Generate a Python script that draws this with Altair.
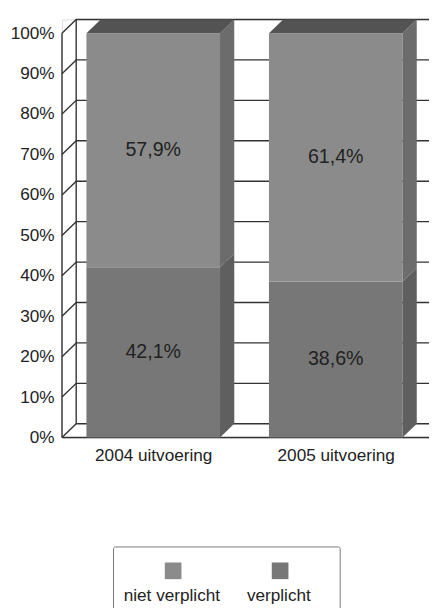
import altair as alt
import pandas as pd

# ---- data ----
categories = ["2004 uitvoering", "2005 uitvoering"]
series = ["niet verplicht", "verplicht"]
verplicht = [42.1, 38.6]
niet_verplicht = [57.9, 61.4]
y_ticks = [0, 10, 20, 30, 40, 50, 60, 70, 80, 90, 100]

# ---- styling / 3D geometry constants ----
front_colors = ["#8b8b8b", "#777777"]       # niet verplicht, verplicht
side_colors = {"niet verplicht": "#6c6c6c", "verplicht": "#5f5f5f"}
top_color = "#535353"
line_color = "#333333"
text_color = "#222222"
FONT = "Liberation Sans"
DX = 0.078      # depth in x units
DY = 3.4        # depth in y units (percent)
HALF = 0.366    # half bar width
XMAX = 2.011
YMAX = 100 + DY

# ---- tables built from the arrays ----
seg_rows, side_rows, top_rows = [], [], []
for i, cat in enumerate(categories):
    c = i + 0.5
    parts = [("verplicht", 0.0, verplicht[i]),
             ("niet verplicht", verplicht[i], verplicht[i] + niet_verplicht[i])]
    for s, lo, hi in parts:
        val = hi - lo
        seg_rows.append(dict(series=s, x=c - HALF, x2=c + HALF, y=lo, y2=hi,
                             xc=c, mid=(lo + hi) / 2,
                             label=f"{val:.1f}%".replace(".", ",")))
        key = f"{cat}|{s}"
        side_rows.append(dict(key=key, shade=s, x=c + HALF, y=lo, y2=hi))
        side_rows.append(dict(key=key, shade=s, x=c + HALF + DX, y=lo + DY, y2=hi + DY))
    total = verplicht[i] + niet_verplicht[i]
    top_rows.append(dict(key=cat, y=total, x=c - HALF, x2=c + HALF))
    top_rows.append(dict(key=cat, y=total + DY, x=c - HALF + DX, x2=c + HALF + DX))

grid_rows = []
for v in y_ticks:
    grid_rows += [dict(k=f"g{v}", x=0.0, y=v, o=0),
                  dict(k=f"g{v}", x=DX, y=v + DY, o=1),
                  dict(k=f"g{v}", x=XMAX, y=v + DY, o=2)]
grid_rows += [dict(k="back", x=DX, y=DY, o=0), dict(k="back", x=DX, y=100 + DY, o=1),
              dict(k="front", x=0.0, y=0, o=0), dict(k="front", x=0.0, y=100, o=1),
              dict(k="floor", x=0.0, y=0, o=0), dict(k="floor", x=XMAX, y=0, o=1)]

seg = pd.DataFrame(seg_rows)
side = pd.DataFrame(side_rows)
top = pd.DataFrame(top_rows)
grid = pd.DataFrame(grid_rows)

label_expr = "[" + ",".join(f"'{c}'" for c in categories) + "][floor(datum.value)]"


def X(field):
    return alt.X(field, type="quantitative",
                 scale=alt.Scale(domain=[0, XMAX], nice=False, zero=False),
                 axis=alt.Axis(values=[0.5, 1.5], labelExpr=label_expr, title=None,
                               domain=False, ticks=False, grid=False, labelPadding=9,
                               labelFontSize=17.5, labelColor=text_color, labelFont=FONT))


def Y(field):
    return alt.Y(field, type="quantitative", stack=None,
                 scale=alt.Scale(domain=[0, YMAX], nice=False, zero=False),
                 axis=alt.Axis(values=y_ticks, labelExpr="datum.value + '%'", title=None,
                               domain=False, ticks=False, grid=False, labelPadding=8,
                               labelFontSize=17.5, labelColor=text_color, labelFont=FONT))


lines = alt.Chart(grid).mark_line(color=line_color, strokeWidth=1.4).encode(
    x=X("x"), y=Y("y"), detail="k:N", order="o:Q")

front = alt.Chart(seg).mark_rect(strokeWidth=0).encode(
    x=X("x"), x2="x2", y=Y("y"), y2="y2",
    color=alt.Color("series:N",
                    scale=alt.Scale(domain=series, range=front_colors),
                    legend=alt.Legend(
                        title="i" * 37, titleFontSize=20.7, titlePadding=12,
                        titleLimit=600, titleFont=FONT, titleOpacity=0,
                        orient="none", legendX=52, legendY=537,
                        direction="horizontal",
                        symbolType="M1.12,-4.06H3.12V-2.06H1.12Z",
                        symbolSize=289, symbolStrokeWidth=0, symbolOffset=25.5,
                        labelAlign="center", labelBaseline="middle", labelOffset=8,
                        labelFontSize=17.5, labelFont=FONT, labelColor=text_color,
                        columnPadding=8, padding=9,
                        fillColor="white", strokeColor="#7a7a7a",
                        cornerRadius=2)))

sides = alt.Chart(side).mark_area(orient="vertical").encode(
    x=X("x"), y=Y("y"), y2="y2", detail="key:N",
    fill=alt.Fill("shade:N", scale=alt.Scale(domain=list(side_colors.keys()),
                                             range=list(side_colors.values())),
                  legend=None))

tops = alt.Chart(top).mark_area(orient="horizontal", color=top_color).encode(
    y=Y("y"), x=X("x"), x2="x2", detail="key:N")

texts = alt.Chart(seg).mark_text(fontSize=20, font=FONT, color=text_color).encode(
    x=X("xc"), y=Y("mid"), text="label:N")

chart = alt.layer(lines, front, sides, tops, texts).properties(
    width=374, height=426,
    autosize=alt.AutoSizeParams(type="none"),
    padding={"left": 55, "top": 6, "right": 0, "bottom": 168},
).configure_view(stroke=None).configure(font=FONT)

chart.save("out.html", embed_options={"renderer": "svg", "actions": False})
